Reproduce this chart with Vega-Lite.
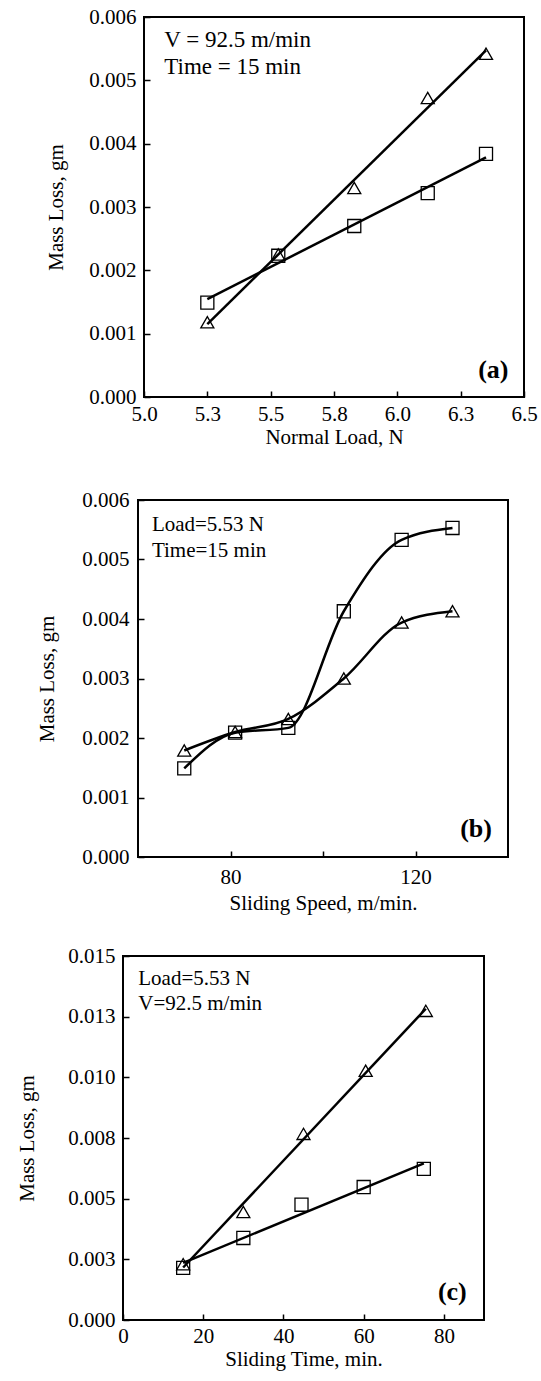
{
  "$schema": "https://vega.github.io/schema/vega-lite/v6.json",
  "background": "white",
  "padding": {"left": 0, "top": 5, "right": 5, "bottom": 5},
  "spacing": 0,
  "config": {
    "font": "Liberation Serif",
    "axis": {"labelFont": "Liberation Serif", "titleFont": "Liberation Serif", "labelFontSize": 21, "titleFontSize": 21, "titleFontWeight": "normal", "labelColor": "black", "titleColor": "black", "tickColor": "black", "tickWidth": 1.5, "tickSize": -6, "grid": false, "domain": false, "labelFlush": false, "labelOverlap": false},
    "text": {"font": "Liberation Serif", "color": "black"}
  },
  "datasets": {
    "a": [
      {"x": 5.25, "y": 0.00118, "s": "tri"}, {"x": 5.53, "y": 0.00225, "s": "tri"}, {"x": 5.83, "y": 0.0033, "s": "tri"}, {"x": 6.12, "y": 0.00472, "s": "tri"}, {"x": 6.35, "y": 0.00542, "s": "tri"},
      {"x": 5.25, "y": 0.00149, "s": "sq"}, {"x": 5.53, "y": 0.00223, "s": "sq"}, {"x": 5.83, "y": 0.0027, "s": "sq"}, {"x": 6.12, "y": 0.00322, "s": "sq"}, {"x": 6.35, "y": 0.00384, "s": "sq"}
    ],
    "b": [
      {"x": 70, "y": 0.00179, "s": "tri"}, {"x": 81, "y": 0.0021, "s": "tri"}, {"x": 92.5, "y": 0.00232, "s": "tri"}, {"x": 104.5, "y": 0.003, "s": "tri"}, {"x": 117, "y": 0.00394, "s": "tri"}, {"x": 128, "y": 0.00413, "s": "tri"},
      {"x": 70, "y": 0.00149, "s": "sq"}, {"x": 81, "y": 0.00209, "s": "sq"}, {"x": 92.5, "y": 0.00217, "s": "sq"}, {"x": 104.5, "y": 0.00413, "s": "sq"}, {"x": 117, "y": 0.00533, "s": "sq"}, {"x": 128, "y": 0.00553, "s": "sq"}
    ],
    "c": [
      {"x": 15, "y": 0.0023, "s": "tri"}, {"x": 30, "y": 0.00445, "s": "tri"}, {"x": 45, "y": 0.00767, "s": "tri"}, {"x": 60.5, "y": 0.01027, "s": "tri"}, {"x": 75.5, "y": 0.01274, "s": "tri"},
      {"x": 15, "y": 0.00215, "s": "sq"}, {"x": 30, "y": 0.00338, "s": "sq"}, {"x": 44.5, "y": 0.00475, "s": "sq"}, {"x": 60, "y": 0.00548, "s": "sq"}, {"x": 75, "y": 0.00623, "s": "sq"}
    ],
    "ta": [{"x": 5.08, "y": 0.00563, "t": "V = 92.5 m/min"}, {"x": 5.08, "y": 0.00521, "t": "Time = 15 min"}],
    "la": [{"x": 6.379, "y": 0.00042, "t": "(a)"}],
    "tb": [{"x": 63, "y": 0.00558, "t": "Load=5.53 N"}, {"x": 63, "y": 0.00515, "t": "Time=15 min"}],
    "lb": [{"x": 133.1, "y": 0.00047, "t": "(b)"}],
    "tc": [{"x": 3.8, "y": 0.01404, "t": "Load=5.53  N"}, {"x": 3.8, "y": 0.01301, "t": "V=92.5 m/min"}],
    "lc": [{"x": 82.1, "y": 0.00116, "t": "(c)"}],
    "empty": []
  },
  "vconcat": [
    {
      "hconcat": [
        {"data": {"name": "empty"}, "mark": "point", "width": 144, "height": 471, "view": {"stroke": null}},
        {
          "width": 380, "height": 380,
          "view": {"stroke": "black", "strokeWidth": 2},
          "layer": [
            {
              "data": {"name": "a"},
              "transform": [{"regression": "y", "on": "x", "groupby": ["s"]}],
              "mark": {"type": "line", "color": "black", "strokeWidth": 2.5},
              "encoding": {
                "x": {"field": "x", "type": "quantitative", "scale": {"domain": [5, 6.5], "nice": false, "zero": false}, "axis": {"title": "Normal Load, N", "values": [5, 5.25, 5.5, 5.75, 6, 6.25, 6.5], "labelExpr": "format(datum.value + 1e-9, '.1f')", "labelPadding": 12, "titlePadding": 2}},
                "y": {"field": "y", "type": "quantitative", "scale": {"domain": [0, 0.006], "nice": false}, "axis": {"title": "Mass Loss, gm", "values": [0, 0.001, 0.002, 0.003, 0.004, 0.005, 0.006], "format": ".3f", "labelPadding": 14, "titlePadding": 22}},
                "detail": {"field": "s"}
              }
            },
            {
              "data": {"name": "a"},
              "mark": {"type": "point", "filled": false, "color": "black", "size": 170, "strokeWidth": 1.3, "opacity": 1},
              "encoding": {
                "x": {"field": "x", "type": "quantitative"},
                "y": {"field": "y", "type": "quantitative"},
                "shape": {"field": "s", "type": "nominal", "scale": {"domain": ["tri", "sq"], "range": ["triangle-up", "square"]}, "legend": null}
              }
            },
            {
              "data": {"name": "ta"},
              "mark": {"type": "text", "align": "left", "baseline": "middle", "fontSize": 23},
              "encoding": {"x": {"field": "x", "type": "quantitative"}, "y": {"field": "y", "type": "quantitative"}, "text": {"field": "t"}}
            },
            {
              "data": {"name": "la"},
              "mark": {"type": "text", "align": "center", "baseline": "middle", "fontSize": 26, "fontWeight": "bold"},
              "encoding": {"x": {"field": "x", "type": "quantitative"}, "y": {"field": "y", "type": "quantitative"}, "text": {"field": "t"}}
            }
          ]
        }
      ],
      "spacing": 0,
      "bounds": "flush"
    },
    {
      "hconcat": [
        {"data": {"name": "empty"}, "mark": "point", "width": 138, "height": 444, "view": {"stroke": null}},
        {
          "width": 370, "height": 357,
          "view": {"stroke": "black", "strokeWidth": 2},
          "layer": [
            {
              "data": {"name": "b"},
              "mark": {"type": "line", "color": "black", "strokeWidth": 2.5, "interpolate": "monotone"},
              "encoding": {
                "x": {"field": "x", "type": "quantitative", "scale": {"domain": [60, 140], "nice": false, "zero": false}, "axis": {"title": "Sliding Speed, m/min.", "values": [80, 100, 120], "labelExpr": "datum.value == 100 ? '' : datum.label", "labelPadding": 15, "titlePadding": 5}},
                "y": {"field": "y", "type": "quantitative", "scale": {"domain": [0, 0.006], "nice": false}, "axis": {"title": "Mass Loss, gm", "values": [0, 0.001, 0.002, 0.003, 0.004, 0.005, 0.006], "format": ".3f", "labelPadding": 15, "titlePadding": 24}},
                "detail": {"field": "s"}
              }
            },
            {
              "data": {"name": "b"},
              "mark": {"type": "point", "filled": false, "color": "black", "size": 170, "strokeWidth": 1.3, "opacity": 1},
              "encoding": {
                "x": {"field": "x", "type": "quantitative"},
                "y": {"field": "y", "type": "quantitative"},
                "shape": {"field": "s", "type": "nominal", "scale": {"domain": ["tri", "sq"], "range": ["triangle-up", "square"]}, "legend": null}
              }
            },
            {
              "data": {"name": "tb"},
              "mark": {"type": "text", "align": "left", "baseline": "middle", "fontSize": 21},
              "encoding": {"x": {"field": "x", "type": "quantitative"}, "y": {"field": "y", "type": "quantitative"}, "text": {"field": "t"}}
            },
            {
              "data": {"name": "lb"},
              "mark": {"type": "text", "align": "center", "baseline": "middle", "fontSize": 26, "fontWeight": "bold"},
              "encoding": {"x": {"field": "x", "type": "quantitative"}, "y": {"field": "y", "type": "quantitative"}, "text": {"field": "t"}}
            }
          ]
        }
      ],
      "spacing": 0,
      "bounds": "flush"
    },
    {
      "hconcat": [
        {"data": {"name": "empty"}, "mark": "point", "width": 123, "height": 1, "view": {"stroke": null}},
        {
          "width": 361, "height": 364,
          "view": {"stroke": "black", "strokeWidth": 2},
          "layer": [
            {
              "data": {"name": "c"},
              "transform": [{"regression": "y", "on": "x", "groupby": ["s"]}],
              "mark": {"type": "line", "color": "black", "strokeWidth": 2.5},
              "encoding": {
                "x": {"field": "x", "type": "quantitative", "scale": {"domain": [0, 90], "nice": false}, "axis": {"title": "Sliding Time, min.", "values": [0, 20, 40, 60, 80], "labelPadding": 11, "titlePadding": 2}},
                "y": {"field": "y", "type": "quantitative", "scale": {"domain": [0, 0.015], "nice": false}, "axis": {"title": "Mass Loss, gm", "values": [0, 0.0025, 0.005, 0.0075, 0.01, 0.0125, 0.015], "labelExpr": "format(datum.value + 1e-9, '.3f')", "labelPadding": 14, "titlePadding": 30}},
                "detail": {"field": "s"}
              }
            },
            {
              "data": {"name": "c"},
              "mark": {"type": "point", "filled": false, "color": "black", "size": 170, "strokeWidth": 1.3, "opacity": 1},
              "encoding": {
                "x": {"field": "x", "type": "quantitative"},
                "y": {"field": "y", "type": "quantitative"},
                "shape": {"field": "s", "type": "nominal", "scale": {"domain": ["tri", "sq"], "range": ["triangle-up", "square"]}, "legend": null}
              }
            },
            {
              "data": {"name": "tc"},
              "mark": {"type": "text", "align": "left", "baseline": "middle", "fontSize": 21},
              "encoding": {"x": {"field": "x", "type": "quantitative"}, "y": {"field": "y", "type": "quantitative"}, "text": {"field": "t"}}
            },
            {
              "data": {"name": "lc"},
              "mark": {"type": "text", "align": "center", "baseline": "middle", "fontSize": 26, "fontWeight": "bold"},
              "encoding": {"x": {"field": "x", "type": "quantitative"}, "y": {"field": "y", "type": "quantitative"}, "text": {"field": "t"}}
            }
          ]
        }
      ],
      "spacing": 0,
      "bounds": "flush"
    }
  ]
}
